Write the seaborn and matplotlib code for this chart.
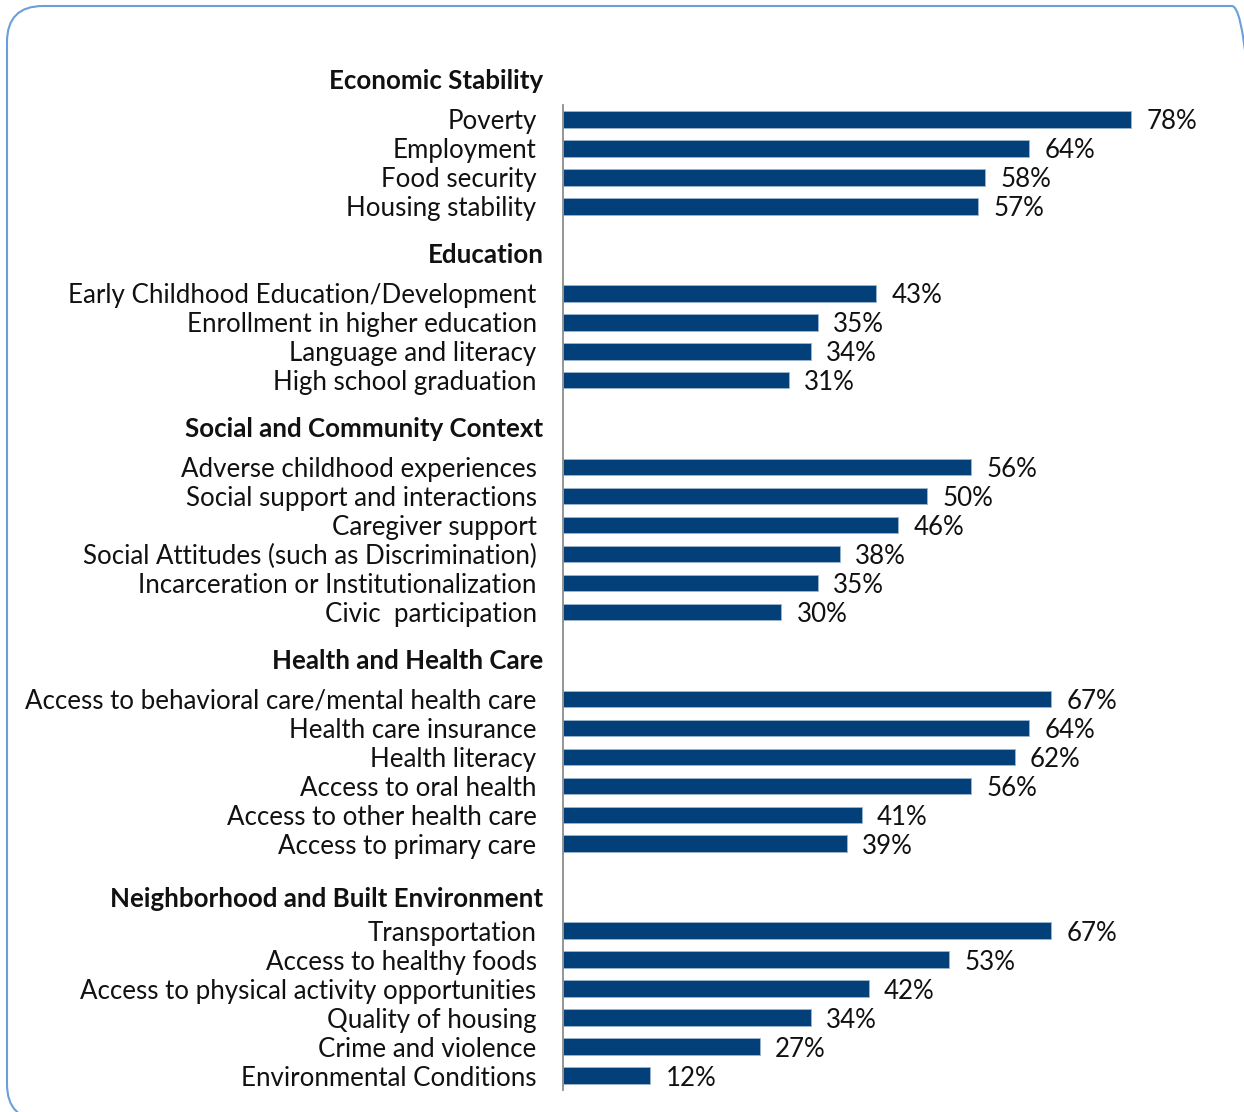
import matplotlib
matplotlib.use("Agg")
import matplotlib.pyplot as plt
from matplotlib.patches import FancyBboxPatch
from matplotlib.transforms import IdentityTransform
import seaborn as sns
import pandas as pd

# ---- data ----
groups = ["Economic Stability", "Education", "Social and Community Context",
          "Health and Health Care", "Neighborhood and Built Environment"]

econ_labels = ["Poverty", "Employment", "Food security", "Housing stability"]
econ_values = [78, 64, 58, 57]

edu_labels = ["Early Childhood Education/Development", "Enrollment in higher education",
              "Language and literacy", "High school graduation"]
edu_values = [43, 35, 34, 31]

social_labels = ["Adverse childhood experiences", "Social support and interactions",
                 "Caregiver support", "Social Attitudes (such as Discrimination)",
                 "Incarceration or Institutionalization", "Civic  participation"]
social_values = [56, 50, 46, 38, 35, 30]

health_labels = ["Access to behavioral care/mental health care", "Health care insurance",
                 "Health literacy", "Access to oral health", "Access to other health care",
                 "Access to primary care"]
health_values = [67, 64, 62, 56, 41, 39]

neigh_labels = ["Transportation", "Access to healthy foods",
                "Access to physical activity opportunities", "Quality of housing",
                "Crime and violence", "Environmental Conditions"]
neigh_values = [67, 53, 42, 34, 27, 12]

group_labels = [econ_labels, edu_labels, social_labels, health_labels, neigh_labels]
group_values = [econ_values, edu_values, social_values, health_values, neigh_values]

# ---- build table and row order (with blank spacer rows between groups) ----
records = []
order = []
first_rows = []
spacer = 0
for gi, (g, labs, vals) in enumerate(zip(groups, group_labels, group_values)):
    if gi > 0:
        for _ in range(2):
            spacer += 1
            order.append("\u200b" * spacer)
    first_rows.append(len(order))
    for l, v in zip(labs, vals):
        records.append({"group": g, "label": l, "value": v})
        order.append(l)
df = pd.DataFrame(records)

# ---- figure ----
sns.set_style("white")
plt.rcParams["font.family"] = ["Lato", "DejaVu Sans"]
FS = 18.6

fig = plt.figure(figsize=(12.44, 11.12), dpi=100)
ax = fig.add_axes([563 / 1244, 22 / 1112, 619 / 1244, (1090 - 105) / 1112])

bar_color = "#033f78"
sns.barplot(data=df, x="value", y="label", order=order, color=bar_color,
            saturation=1, width=0.57, orient="h", ax=ax,
            edgecolor="#9fb6d0", linewidth=0.6)

ax.set_xlim(0, 85)
ax.set_ylim(len(order) - 0.5, -0.5)
ax.set_xlabel("")
ax.set_ylabel("")
ax.set_xticks([])
ax.tick_params(axis="y", length=0, pad=19, labelsize=FS)
ax.set_yticks(range(len(order)))
ax.set_yticklabels([o if "\u200b" not in o else "" for o in order], fontsize=FS)
for t in ax.get_yticklabels():
    t.set_color("#111111")

for s in ["top", "right", "bottom"]:
    ax.spines[s].set_visible(False)
ax.spines["left"].set_color("#8c8c8c")
ax.spines["left"].set_linewidth(1.3)

for c in ax.containers:
    texts = ax.bar_label(c, fmt="{:.0f}%", padding=11, fontsize=FS, color="#111111")
    for t in texts:
        t.set_verticalalignment("center_baseline")

# group headers (distance above the first bar of each group, in rows)
header_gaps = [1.33, 1.33, 1.31, 1.31, 1.1]
for g, r, gap in zip(groups, first_rows, header_gaps):
    ax.annotate(g, xy=(0, r - gap), xycoords=("axes fraction", "data"),
                xytext=(-14, 0), textcoords="offset points",
                ha="right", va="center", fontsize=FS, fontweight="bold",
                color="#111111", annotation_clip=False)

# rounded frame (pixel coordinates, origin bottom-left)
frame = FancyBboxPatch((7, -8), 1268 - 7, 1106 + 8,
                       boxstyle="round,pad=0,rounding_size=36",
                       transform=IdentityTransform(), fill=False,
                       edgecolor="#6a9fd8", linewidth=1.5, clip_on=False)
fig.patches.append(frame)

fig.savefig("out.png", dpi=100)
